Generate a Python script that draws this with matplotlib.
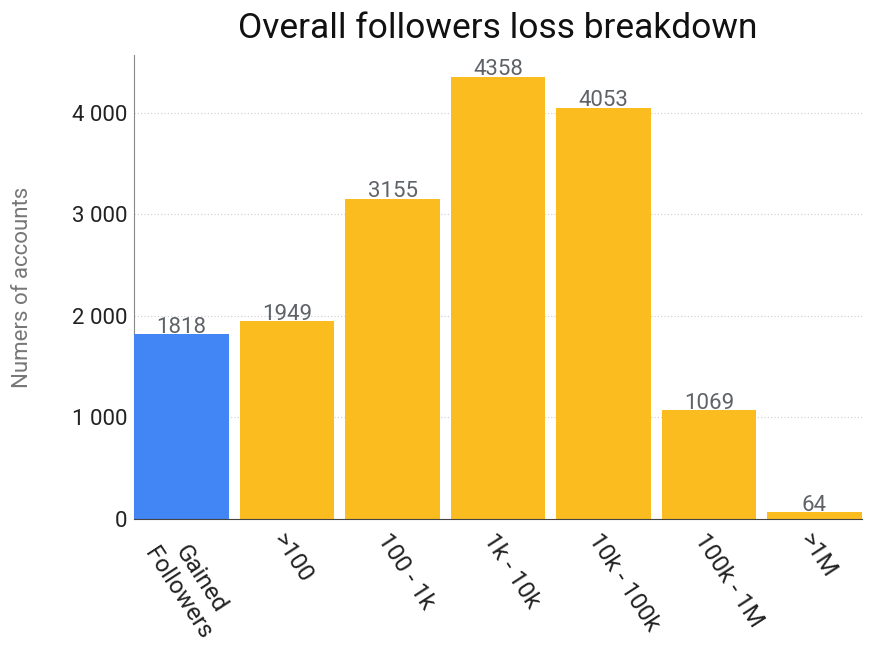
import matplotlib.pyplot as plt

plt.rcParams['font.family'] = ['Roboto', 'DejaVu Sans']

# data
categories = ['Gained\nFollowers', '>100', '100 - 1k', '1k - 10k', '10k - 100k', '100k - 1M', '>1M']
accounts = [1818, 1949, 3155, 4358, 4053, 1069, 64]
yticks = [0, 1000, 2000, 3000, 4000]
ytick_labels = ['0', '1 000', '2 000', '3 000', '4 000']

blue = '#4285F4'
yellow = '#FBBC1F'
colors = [blue] + [yellow] * (len(accounts) - 1)

fig = plt.figure(figsize=(8.96, 6.72), dpi=100)
ax = fig.add_axes([0.1496, 0.2277, 0.8124, 0.6903])

x = list(range(len(categories)))
bars = ax.bar(x, accounts, width=0.9, color=colors, zorder=3)

# value labels sit right on top of the bars
for xi, v in zip(x, accounts):
    ax.text(xi, v + 15, str(v), ha='center', va='baseline', fontsize=16, color='#5f6368', zorder=4)

ax.set_xlim(-0.45, len(categories) - 0.55)
ax.set_ylim(0, 4570)
ax.set_yticks(yticks)
ax.set_yticklabels(ytick_labels, fontsize=16, color='#222222')
ax.yaxis.grid(True, linestyle=(0, (1, 2)), color='#cccccc', linewidth=0.8, zorder=0)
ax.tick_params(axis='y', length=0, pad=5)
ax.tick_params(axis='x', length=0, pad=7)

ax.set_xticks(x)
ax.set_xticklabels(categories, rotation=-57, ha='left', va='top', rotation_mode='anchor',
                   fontsize=17.5, color='#222222', multialignment='center')

ax.set_ylabel('Numers of accounts', fontsize=16, color='#777777', labelpad=28)
ax.set_title('Overall followers loss breakdown', fontsize=25.5, color='#111111', pad=12)

for s in ['top', 'right']:
    ax.spines[s].set_visible(False)
ax.spines['left'].set_color('#888888')
ax.spines['bottom'].set_color('#444444')
ax.spines['bottom'].set_zorder(5)

fig.savefig('out.png', dpi=100)
